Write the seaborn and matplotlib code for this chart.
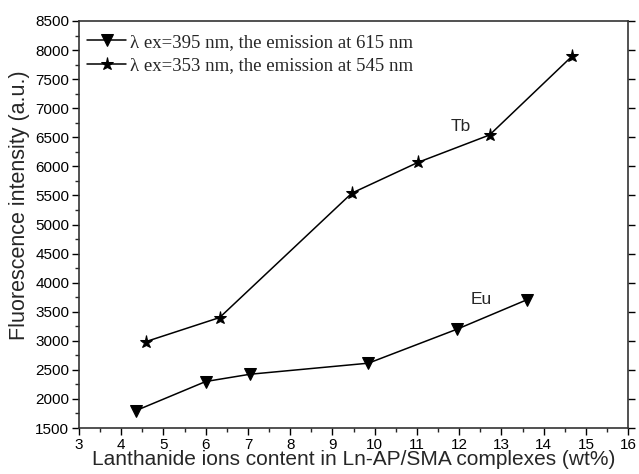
import matplotlib
matplotlib.use("Agg")
import matplotlib.pyplot as plt
import seaborn as sns
import pandas as pd
from matplotlib.ticker import MultipleLocator

eu_x = [4.35, 6.0, 7.05, 9.85, 11.95, 13.6]
eu_y = [1800, 2300, 2425, 2615, 3200, 3705]
tb_x = [4.58, 6.33, 9.46, 11.03, 12.72, 14.68]
tb_y = [2985, 3400, 5540, 6070, 6540, 7900]
eu_label = "λ ex=395 nm, the emission at 615 nm"
tb_label = "λ ex=353 nm, the emission at 545 nm"
x_label = "Lanthanide ions content in Ln-AP/SMA complexes (wt%)"
y_label = "Fluorescence intensity (a.u.)"

sns.set_theme(style="ticks")
plt.rcParams['font.family'] = ['Liberation Sans', 'DejaVu Sans']

eu_df = pd.DataFrame({"x": eu_x, "y": eu_y})
tb_df = pd.DataFrame({"x": tb_x, "y": tb_y})

fig = plt.figure(figsize=(6.39, 4.74), dpi=100)
ax = fig.add_axes([0.1236, 0.097, 0.8594, 0.8587])

sns.lineplot(data=eu_df, x="x", y="y", ax=ax, color="black", lw=1.1,
             marker="v", markersize=8, markeredgecolor="black", label=eu_label)
sns.lineplot(data=tb_df, x="x", y="y", ax=ax, color="black", lw=1.1,
             marker="*", markersize=9.5, markeredgecolor="black", label=tb_label)

ax.set_xlim(3, 16)
ax.set_ylim(1500, 8500)
ax.xaxis.set_major_locator(MultipleLocator(1))
ax.xaxis.set_minor_locator(MultipleLocator(0.5))
ax.yaxis.set_major_locator(MultipleLocator(500))
ax.yaxis.set_minor_locator(MultipleLocator(250))
ax.tick_params(which="major", direction="out", length=5, width=1, labelsize=11, colors="black",
               right=True, top=False, pad=2)
ax.tick_params(which="minor", direction="out", length=3, width=1, left=True, bottom=True, right=False, top=False)
for s in ax.spines.values():
    s.set_linewidth(1.2)
    s.set_color("#333333")

ax.set_xlabel(x_label, fontsize=15, labelpad=-1)
ax.set_ylabel(y_label, fontsize=15.5, labelpad=1)
ax.yaxis.set_label_coords(-0.09, 0.548)

ax.text(12.03, 6677, "Tb", fontsize=12.5, ha="center", va="center")
ax.text(12.53, 3702, "Eu", fontsize=12.5, ha="center", va="center")

leg = ax.legend(loc="upper left", bbox_to_anchor=(-0.011, 1.003), frameon=False,
                prop={"family": "Liberation Serif", "size": 13.5},
                handlelength=2.1, handletextpad=0.2, borderaxespad=0.45, labelspacing=0.33,
                borderpad=0.3)

fig.savefig("out.png", dpi=100)
